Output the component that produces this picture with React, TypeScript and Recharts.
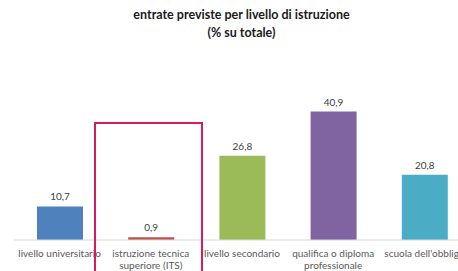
import React from "react";
import { BarChart, Bar, XAxis, YAxis, Cell, LabelList } from "recharts";

const categories = [
  "livello universitario",
  "istruzione tecnica superiore (ITS)",
  "livello secondario",
  "qualifica o diploma professionale",
  "scuola dell'obbligo",
];
const tickLines = [
  ["livello universitario"],
  ["istruzione tecnica", "superiore (ITS)"],
  ["livello secondario"],
  ["qualifica o diploma", "professionale"],
  ["scuola dell'obbligo"],
];
const values = [10.7, 0.9, 26.8, 40.9, 20.8];
const colors = ["#4F81BD", "#C0504D", "#9BBB59", "#8064A2", "#4BACC6"];

const data = categories.map((c, i) => ({ name: c, value: values[i] }));

const FONT = "Lato, 'Open Sans', sans-serif";

const Tick = (props: any) => {
  const { x, index } = props;
  const lines = tickLines[index] || [];
  return (
    <text x={x} y={240} textAnchor="middle" fill="#595959" fontSize={10} fontFamily={FONT}>
      {lines.map((l, i) => (
        <tspan key={i} x={x} dy={i === 0 ? 16.5 : 12.8}>
          {l}
        </tspan>
      ))}
    </text>
  );
};

export default function App() {
  return (
    <div style={{ position: "absolute", left: 0, top: 0, width: 458, height: 271, overflow: "hidden", background: "#fff" }}>
      <div
        style={{
          position: "absolute",
          left: 0,
          top: 6,
          width: 483,
          textAlign: "center",
          fontFamily: FONT,
          fontWeight: 700,
          fontSize: 12.5,
          lineHeight: "18px",
          color: "#1a1a1a",
        }}
      >
        entrate previste per livello di istruzione
        <br />
        (% su totale)
      </div>
      <div style={{ position: "absolute", left: 0, top: 0 }}>
        <BarChart width={470} height={271} data={data} margin={{ top: 83, right: 0, bottom: 0, left: 14 }}>
          <XAxis
            dataKey="name"
            height={31}
            axisLine={{ stroke: "#D9D9D9" }}
            tickLine={false}
            interval={0}
            tick={<Tick />}
          />
          <YAxis hide domain={[0, 50]} />
          <Bar dataKey="value" barSize={46} isAnimationActive={false}>
            {data.map((d, i) => (
              <Cell key={i} fill={colors[i]} />
            ))}
            <LabelList
              dataKey="value"
              position="top"
              offset={6}
              fill="#404040"
              fontSize={10}
              fontFamily={FONT}
              formatter={(v: any) => String(v).replace(".", ",")}
            />
          </Bar>
        </BarChart>
      </div>
      <div
        style={{
          position: "absolute",
          left: 94,
          top: 122,
          width: 109,
          height: 160,
          border: "2px solid #D81B60",
          boxSizing: "border-box",
        }}
      />
    </div>
  );
}
